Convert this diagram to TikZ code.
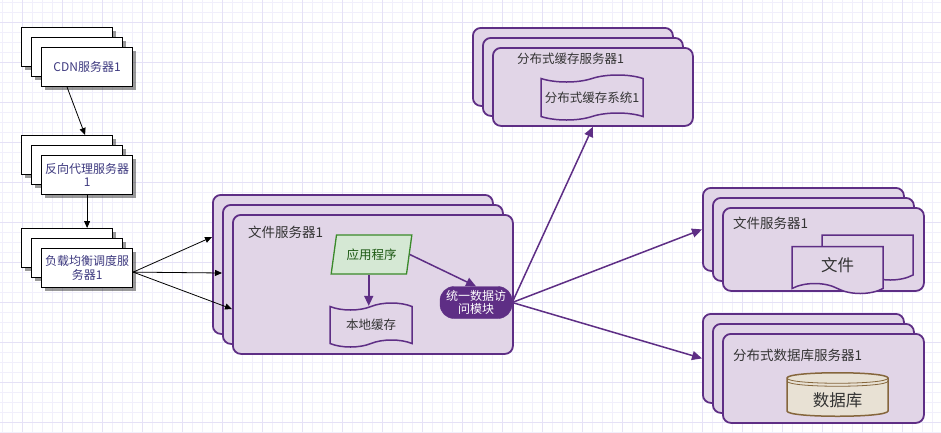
\documentclass[tikz,border=0pt]{standalone}
\usepackage{fontspec}
\setmainfont{Noto Sans CJK SC}
\usetikzlibrary{arrows.meta,shadows,shapes.geometric,shapes.symbols}

\definecolor{gridfaint}{HTML}{F1EFFB}
\definecolor{gridstrong}{HTML}{E5E1F6}
\definecolor{lilac}{HTML}{E1D5E7}
\definecolor{plum}{HTML}{5E2E85}
\definecolor{leaf}{HTML}{D5E8D4}
\definecolor{leafline}{HTML}{3A8A2A}
\definecolor{leaftext}{HTML}{1E5A14}
\definecolor{sand}{HTML}{E8E1D4}
\definecolor{bark}{HTML}{85663C}
\definecolor{ink}{HTML}{333333}
\definecolor{inkblue}{HTML}{3E3A80}

\tikzset{
	paper/.style={draw=black, fill=white, line width=1.2pt, inner sep=0pt, anchor=north west,
		minimum width=91pt, minimum height=39pt,
		drop shadow={shadow xshift=3pt, shadow yshift=-3pt, fill=black, opacity=0.4}},
	papertext/.style={paper, text=inkblue, align=center, font=\fontsize{12}{13.5}\selectfont},
	layer/.style={draw=plum, fill=lilac, line width=1.8pt, rounded corners=8pt, inner sep=0pt, anchor=north west},
	caption/.style={anchor=west, inner sep=0pt, text=ink, font=\fontsize{13.5}{15}\selectfont},
	wire/.style={-{Triangle[length=7pt,width=6pt]}, line width=0.8pt, black},
	plumwire/.style={-{Triangle[length=10pt,width=9pt]}, line width=1.5pt, draw=plum, fill=plum},
	tapebox/.style={tape, tape bend height=7pt, draw=plum, fill=lilac, line width=1.5pt, inner sep=0pt, text=ink},
}

\begin{document}
\begin{tikzpicture}[x=1pt, y=-1pt]
		\useasboundingbox (0,0) rectangle (941,432);
		% 背景网格
		\fill [white] (0,0) rectangle (941,432);
		\foreach \gx in {2,12,...,941} \draw [gridfaint, line width=0.8pt] (\gx,0) -- (\gx,432);
		\foreach \gy in {2,12,...,432} \draw [gridfaint, line width=0.8pt] (0,\gy) -- (941,\gy);
		\foreach \gx in {22,62,...,941} \draw [gridstrong, line width=0.8pt] (\gx,0) -- (\gx,432);
		\foreach \gy in {22,62,...,432} \draw [gridstrong, line width=0.8pt] (0,\gy) -- (941,\gy);

		% CDN服务器
		\node [paper] (cdnA) at (21,27) {};
		\node [paper] (cdnB) at (31,37) {};
		\node [papertext] (cdnC) at (41,47) {CDN服务器1};

		% 反向代理服务器
		\node [paper] (prxA) at (21,135) {};
		\node [paper] (prxB) at (31,145) {};
		\node [papertext] (prxC) at (41,155) {反向代理服务器\\1};

		% 负载均衡调度服务器
		\node [paper] (lbA) at (21,228) {};
		\node [paper] (lbB) at (31,238) {};
		\node [papertext] (lbC) at (41,248) {负载均衡调度服\\务器1};

		\draw [wire] ([xshift=-20pt]cdnC.south) -- ([xshift=18pt]prxA.north);
		\draw [wire] (prxC.south) -- ([xshift=20pt]lbA.north);

		% 文件服务器（中间）
		\node [layer, minimum width=280pt, minimum height=139pt] (fsA) at (212,194) {};
		\node [layer, minimum width=280pt, minimum height=139pt] (fsB) at (222,204) {};
		\node [layer, minimum width=280pt, minimum height=139pt] (fsC) at (232,214) {};
		\node [caption] (fsT) at ([shift={(16,18)}]fsC.north west) {文件服务器1};

		\draw [wire] ([yshift=-4pt]lbC.east) -- ([yshift=-43pt]fsA.north west);
		\draw [wire] ([yshift=-4pt]lbC.east) -- ([yshift=-69pt]fsB.north west);
		\draw [wire] ([yshift=-4pt]lbC.east) -- ([yshift=-95pt]fsC.north west);

		\node [trapezium, trapezium left angle=72, trapezium right angle=108, trapezium stretches=true,
			minimum width=81pt, minimum height=39pt, inner sep=0pt, draw=leafline, fill=leaf,
			line width=1.3pt, text=leaftext, font=\fontsize{12.5}{14}\selectfont] (app) at (371.5,254.5) {应用程序};
		\node [tapebox, minimum width=82pt, minimum height=44pt, font=\fontsize{12.5}{14}\selectfont] (cache) at (371,325) {本地缓存};
		\node [draw=plum, fill=plum, rounded corners=14pt, minimum width=72pt, minimum height=32pt, inner sep=0pt,
			text=white, align=center, font=\fontsize{12}{13.5}\selectfont] (udm) at (476,302.5) {统一数据访\\问模块};

		\draw [plumwire] (app.bottom side) -- (app.bottom side |- cache.north);
		\draw [plumwire] (app.right side) -- (udm.north);

		% 分布式缓存服务器
		\node [layer, minimum width=200pt, minimum height=78pt] (dcA) at (472,27) {};
		\node [layer, minimum width=200pt, minimum height=78pt] (dcB) at (482,37) {};
		\node [layer, minimum width=200pt, minimum height=78pt] (dcC) at (492,47) {};
		\node [caption, font=\fontsize{12.5}{14}\selectfont] (dcT) at ([shift={(25,12)}]dcC.north west) {分布式缓存服务器1};
		\node [tapebox, minimum width=102pt, minimum height=45pt, font=\fontsize{12.5}{14}\selectfont] (dcsys) at (592,97.5) {分布式缓存系统1};

		% 文件服务器（右）
		\node [layer, minimum width=201pt, minimum height=83pt] (rfA) at (702,187) {};
		\node [layer, minimum width=201pt, minimum height=83pt] (rfB) at (712,197) {};
		\node [layer, minimum width=201pt, minimum height=83pt] (rfC) at (722,207) {};
		\node [caption] (rfT) at ([shift={(11,16)}]rfC.north west) {文件服务器1};
		\node [tapebox, tape bend top=none, tape bend bottom=out and in, tape bend height=10pt,
			minimum width=91pt, minimum height=45pt] (docB) at (867.5,252.5) {};
		\node [tapebox, tape bend top=none, tape bend bottom=out and in, tape bend height=10pt,
			minimum width=91pt, minimum height=47pt, font=\fontsize{16.5}{18}\selectfont] (docF) at (837.5,265) {文件};

		% 分布式数据库服务器
		\node [layer, minimum width=201pt, minimum height=89pt] (dbA) at (702,313) {};
		\node [layer, minimum width=201pt, minimum height=89pt] (dbB) at (712,323) {};
		\node [layer, minimum width=201pt, minimum height=89pt] (dbC) at (722,333) {};
		\node [caption] (dbT) at ([shift={(11,22)}]dbC.north west) {分布式数据库服务器1};
		\draw [draw=bark, fill=sand, line width=1.5pt] (787,378) -- (787,411) .. controls (787,418) and (888,418) .. (888,411)
			-- (888,378) .. controls (888,371) and (787,371) .. (787,378) -- cycle;
		\draw [draw=bark, line width=0.8pt] (787,378) .. controls (787,385) and (888,385) .. (888,378);
		\draw [draw=bark, line width=0.8pt] (787,381) .. controls (787,388) and (888,388) .. (888,381);
		\node [inner sep=0pt, text=ink, font=\fontsize{16.5}{18}\selectfont] (db) at (837.5,400) {数据库};

		\draw [plumwire] (udm.east) -- (dcC.south);
		\draw [plumwire] (udm.east) -- (rfA.west);
		\draw [plumwire] (udm.east) -- (dbA.west);
	\end{tikzpicture}
\end{document}
